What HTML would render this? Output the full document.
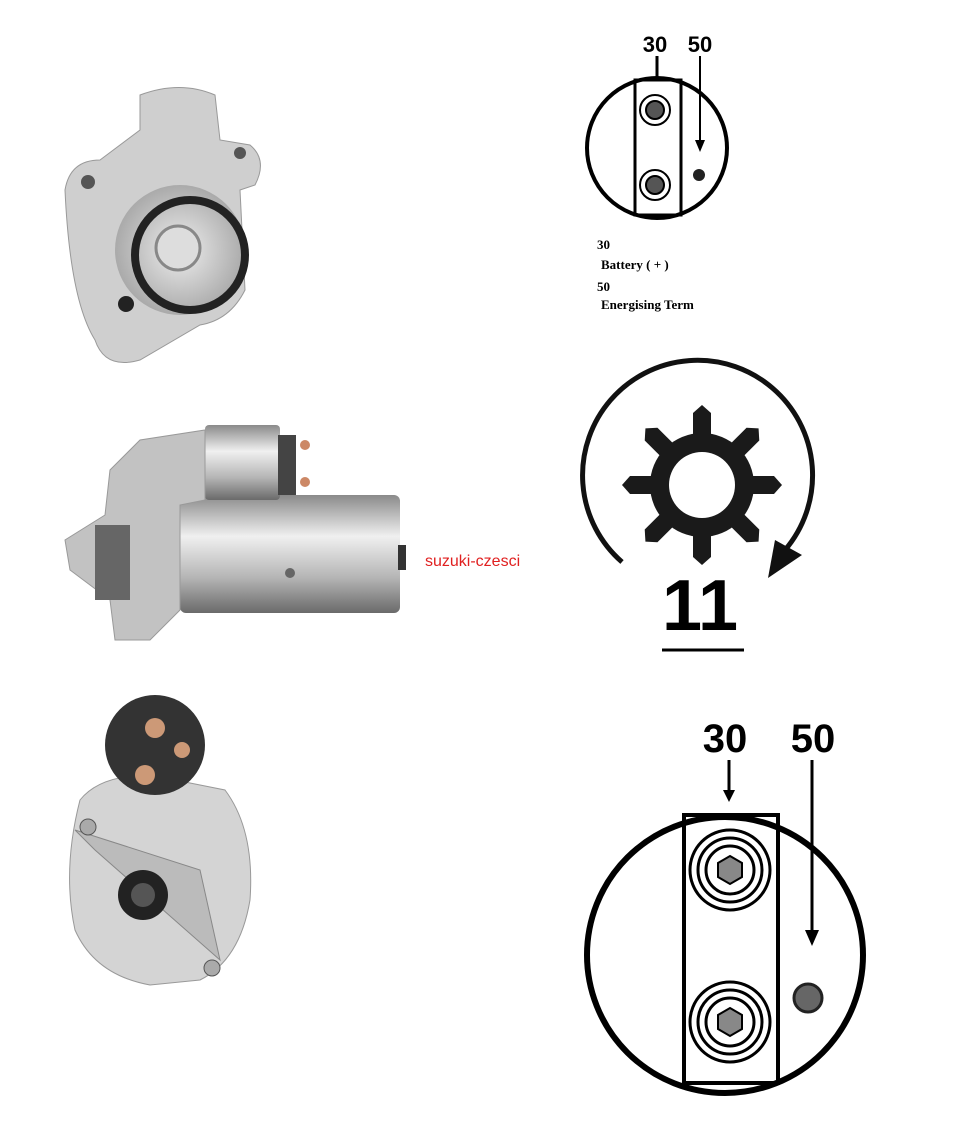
<!DOCTYPE html>
<html><head><meta charset="utf-8"><style>
body{margin:0;background:#fff;width:960px;height:1120px;overflow:hidden;font-family:"Liberation Sans",sans-serif}
</style></head><body>
<svg width="960" height="1120" viewBox="0 0 960 1120" xmlns="http://www.w3.org/2000/svg">
<defs>
<linearGradient id="met" x1="0" y1="0" x2="0" y2="1"><stop offset="0" stop-color="#8a8a8a"/><stop offset="0.35" stop-color="#f0f0f0"/><stop offset="0.7" stop-color="#b5b5b5"/><stop offset="1" stop-color="#6a6a6a"/></linearGradient>
<radialGradient id="rg"><stop offset="0" stop-color="#eee"/><stop offset="1" stop-color="#aaa"/></radialGradient>
</defs>
<!-- top photo -->
<path d="M140,95 Q180,80 215,95 L220,140 L250,145 Q268,160 255,185 L240,190 L245,290 Q230,320 200,325 L140,360 Q105,370 95,340 Q70,300 65,190 Q70,160 100,160 L140,130 Z" fill="#cfcfcf" stroke="#999"/>
<circle cx="180" cy="250" r="65" fill="url(#rg)"/>
<circle cx="190" cy="255" r="55" fill="none" stroke="#222" stroke-width="8"/>
<circle cx="178" cy="248" r="22" fill="#ddd" stroke="#888" stroke-width="3"/>
<circle cx="126" cy="304" r="8" fill="#222"/>
<circle cx="88" cy="182" r="7" fill="#555"/><circle cx="240" cy="153" r="6" fill="#555"/>
<!-- middle photo -->
<rect x="180" y="495" width="220" height="118" rx="6" fill="url(#met)"/>
<rect x="205" y="425" width="75" height="75" rx="4" fill="url(#met)"/>
<path d="M110,470 L140,440 L205,430 L205,500 L180,505 L180,610 L150,640 L115,640 L110,600 L70,570 L65,540 L105,515 Z" fill="#c2c2c2" stroke="#999"/>
<rect x="95" y="525" width="35" height="75" fill="#666"/>
<rect x="278" y="435" width="18" height="60" fill="#444"/>
<circle cx="305" cy="445" r="5" fill="#c86"/><circle cx="305" cy="482" r="5" fill="#c86"/>
<rect x="398" y="545" width="8" height="25" fill="#333"/>
<circle cx="290" cy="573" r="5" fill="#666"/>
<!-- bottom photo -->
<path d="M80,800 Q100,775 150,775 L225,790 Q255,830 250,900 Q240,960 200,980 L150,985 Q95,975 75,930 Q62,870 80,800 Z" fill="#d4d4d4" stroke="#999"/>
<circle cx="155" cy="745" r="50" fill="#333"/>
<circle cx="155" cy="728" r="10" fill="#c97"/><circle cx="182" cy="750" r="8" fill="#c97"/><circle cx="145" cy="775" r="10" fill="#c97"/>
<path d="M75,830 L200,870 L220,960 L95,850 Z" fill="#bbb" stroke="#888"/>
<circle cx="143" cy="895" r="25" fill="#222"/><circle cx="143" cy="895" r="12" fill="#555"/>
<circle cx="88" cy="827" r="8" fill="#aaa" stroke="#555"/><circle cx="212" cy="968" r="8" fill="#aaa" stroke="#555"/>
<text x="425" y="566" font-size="16" fill="#e02020">suzuki-czesci</text>
<!-- top right diagram -->
<text x="655" y="52" font-size="22" font-weight="bold" text-anchor="middle">30</text>
<text x="700" y="52" font-size="22" font-weight="bold" text-anchor="middle">50</text>
<line x1="657" y1="56" x2="657" y2="80" stroke="#000" stroke-width="3"/>
<line x1="700" y1="56" x2="700" y2="145" stroke="#000" stroke-width="2"/>
<path d="M695,140 L700,152 L705,140 Z"/>
<circle cx="657" cy="148" r="70" fill="none" stroke="#000" stroke-width="4"/>
<rect x="635" y="80" width="46" height="135" fill="none" stroke="#000" stroke-width="3"/>
<circle cx="655" cy="110" r="15" fill="none" stroke="#000" stroke-width="2"/><circle cx="655" cy="110" r="9" fill="#555" stroke="#000" stroke-width="2"/>
<circle cx="655" cy="185" r="15" fill="none" stroke="#000" stroke-width="2"/><circle cx="655" cy="185" r="9" fill="#555" stroke="#000" stroke-width="2"/>
<circle cx="699" cy="175" r="6" fill="#222"/>
<g font-family="Liberation Serif,serif" font-weight="bold" font-size="13">
<text x="597" y="249">30</text><text x="601" y="269">Battery ( + )</text>
<text x="597" y="291">50</text><text x="601" y="309">Energising Term</text></g>
<!-- gear -->
<path d="M622,562 A115,115 0 1 1 785,550" fill="none" stroke="#111" stroke-width="5"/>
<path d="M775,540 L802,555 L768,578 Z" fill="#111"/>
<g transform="translate(702,485)" fill="#1a1a1a">
<circle r="52"/>
<g id="t"><path d="M-9,-50 L-9,-72 L0,-80 L9,-72 L9,-50 Z"/></g>
<use href="#t" transform="rotate(45)"/><use href="#t" transform="rotate(90)"/><use href="#t" transform="rotate(135)"/><use href="#t" transform="rotate(180)"/><use href="#t" transform="rotate(225)"/><use href="#t" transform="rotate(270)"/><use href="#t" transform="rotate(315)"/>
<circle r="33" fill="#fff"/></g>
<text x="700" y="630" font-size="72" font-weight="bold" text-anchor="middle">11</text>
<line x1="662" y1="650" x2="744" y2="650" stroke="#000" stroke-width="3"/>
<!-- bottom right diagram -->
<text x="725" y="752" font-size="40" font-weight="bold" text-anchor="middle">30</text>
<text x="813" y="752" font-size="40" font-weight="bold" text-anchor="middle">50</text>
<line x1="729" y1="760" x2="729" y2="795" stroke="#000" stroke-width="3"/>
<path d="M723,790 L729,802 L735,790 Z"/>
<line x1="812" y1="760" x2="812" y2="935" stroke="#000" stroke-width="3"/>
<path d="M805,930 L812,946 L819,930 Z"/>
<circle cx="725" cy="955" r="138" fill="none" stroke="#000" stroke-width="6"/>
<rect x="684" y="815" width="94" height="268" fill="none" stroke="#000" stroke-width="4"/>
<g fill="none" stroke="#000" stroke-width="3">
<circle cx="730" cy="870" r="40"/><circle cx="730" cy="870" r="32"/><circle cx="730" cy="870" r="24"/>
<circle cx="730" cy="1022" r="40"/><circle cx="730" cy="1022" r="32"/><circle cx="730" cy="1022" r="24"/></g>
<polygon points="730,856 742,863 742,877 730,884 718,877 718,863" fill="#888" stroke="#000" stroke-width="2"/>
<polygon points="730,1008 742,1015 742,1029 730,1036 718,1029 718,1015" fill="#888" stroke="#000" stroke-width="2"/>
<circle cx="808" cy="998" r="14" fill="#666" stroke="#222" stroke-width="3"/>
</svg>
</body></html>
